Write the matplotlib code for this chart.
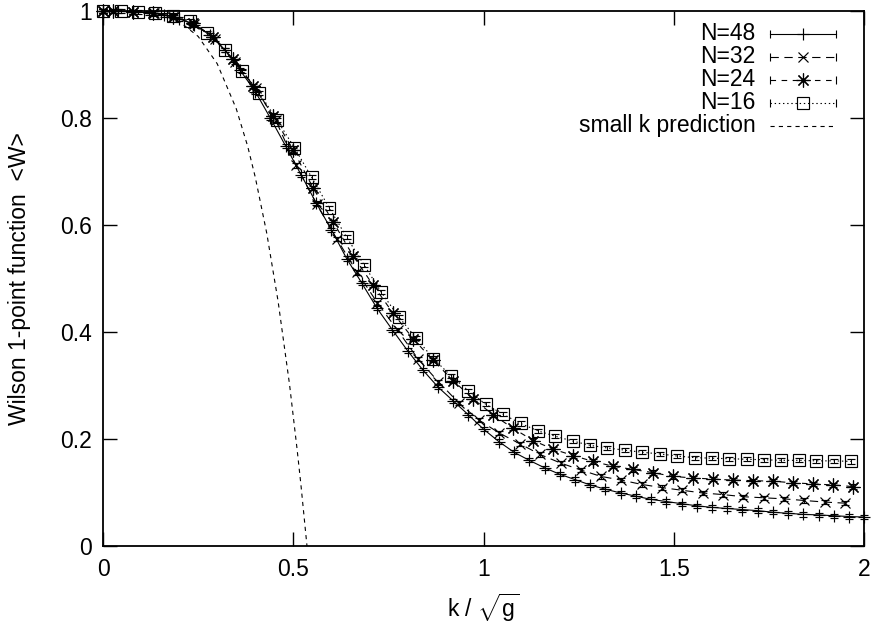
import matplotlib
matplotlib.use('Agg')
import matplotlib.pyplot as plt
from matplotlib.ticker import MultipleLocator, FormatStrFormatter

plt.rcParams['font.family'] = ['Liberation Sans', 'DejaVu Sans']
plt.rcParams['mathtext.fontset'] = 'custom'
plt.rcParams['mathtext.rm'] = 'Liberation Sans'
plt.rcParams['mathtext.it'] = 'Liberation Sans'
plt.rcParams['lines.scale_dashes'] = False

# ---- data ----
k48 = [0.00, 0.04, 0.08, 0.12, 0.16, 0.20, 0.24, 0.28, 0.32, 0.36, 0.40, 0.44, 0.48,
       0.52, 0.56, 0.60, 0.64, 0.68, 0.72, 0.76, 0.80, 0.84, 0.88, 0.92, 0.96, 1.00,
       1.04, 1.08, 1.12, 1.16, 1.20, 1.24, 1.28, 1.32, 1.36, 1.40, 1.44, 1.48, 1.52,
       1.56, 1.60, 1.64, 1.68, 1.72, 1.76, 1.80, 1.84, 1.88, 1.92, 1.96, 2.00]
w48 = [1.000, 1.000, 0.999, 0.997, 0.993, 0.986, 0.975, 0.956, 0.928, 0.890, 0.850, 0.800, 0.748,
       0.695, 0.642, 0.592, 0.538, 0.492, 0.445, 0.405, 0.366, 0.330, 0.298, 0.272, 0.246, 0.219,
       0.196, 0.176, 0.161, 0.147, 0.135, 0.125, 0.115, 0.107, 0.100, 0.094, 0.088, 0.084, 0.080,
       0.076, 0.073, 0.071, 0.069, 0.067, 0.064, 0.062, 0.060, 0.059, 0.0575, 0.056, 0.055]

k32 = [0.000, 0.027, 0.080, 0.134, 0.187, 0.240, 0.294, 0.347, 0.401, 0.454, 0.507, 0.561,
       0.614, 0.668, 0.721, 0.774, 0.828, 0.881, 0.935, 0.988, 1.041, 1.095, 1.148, 1.202,
       1.255, 1.308, 1.362, 1.415, 1.469, 1.522, 1.575, 1.629, 1.682, 1.736, 1.789, 1.842,
       1.896, 1.949]
w32 = [1.000, 1.000, 0.999, 0.996, 0.989, 0.976, 0.948, 0.905, 0.856, 0.796, 0.712, 0.640,
       0.575, 0.512, 0.455, 0.404, 0.350, 0.308, 0.268, 0.236, 0.212, 0.192, 0.172, 0.156,
       0.143, 0.131, 0.124, 0.116, 0.110, 0.105, 0.100, 0.097, 0.093, 0.091, 0.089, 0.086,
       0.083, 0.081]

k24 = [0.000, 0.027, 0.080, 0.132, 0.185, 0.237, 0.290, 0.342, 0.395, 0.447, 0.500, 0.552,
       0.605, 0.657, 0.710, 0.762, 0.815, 0.867, 0.920, 0.972, 1.025, 1.077, 1.130, 1.182,
       1.235, 1.287, 1.340, 1.392, 1.445, 1.497, 1.550, 1.602, 1.655, 1.707, 1.760, 1.812,
       1.865, 1.917, 1.970]
w24 = [1.000, 1.000, 0.999, 0.997, 0.990, 0.978, 0.952, 0.910, 0.860, 0.805, 0.740, 0.670,
       0.606, 0.543, 0.488, 0.436, 0.388, 0.348, 0.310, 0.276, 0.246, 0.221, 0.198, 0.182,
       0.170, 0.159, 0.150, 0.144, 0.138, 0.131, 0.128, 0.126, 0.124, 0.123, 0.122, 0.119,
       0.117, 0.115, 0.112]

k16 = [0.000, 0.046, 0.091, 0.137, 0.183, 0.229, 0.274, 0.320, 0.366, 0.411, 0.457, 0.503,
       0.548, 0.594, 0.640, 0.686, 0.731, 0.777, 0.823, 0.868, 0.914, 0.960, 1.005, 1.051,
       1.097, 1.143, 1.188, 1.234, 1.280, 1.325, 1.371, 1.417, 1.463, 1.508, 1.554, 1.600,
       1.645, 1.691, 1.737, 1.782, 1.828, 1.874, 1.920, 1.965]
w16 = [1.000, 1.000, 0.999, 0.997, 0.992, 0.981, 0.960, 0.927, 0.889, 0.847, 0.797, 0.745,
       0.690, 0.633, 0.578, 0.526, 0.475, 0.429, 0.389, 0.351, 0.319, 0.291, 0.266, 0.247,
       0.230, 0.216, 0.206, 0.197, 0.189, 0.184, 0.180, 0.176, 0.173, 0.169, 0.166, 0.165,
       0.164, 0.163, 0.162, 0.161, 0.161, 0.160, 0.160, 0.159]

# error bars are tiny, roughly the same size everywhere
err = 0.004

# small k prediction curve
k_pred = [0.00, 0.05, 0.10, 0.15, 0.20, 0.25, 0.30, 0.35, 0.38, 0.40, 0.43, 0.46, 0.49, 0.51, 0.52, 0.536]
w_pred = [1.000, 1.000, 0.999, 0.994, 0.981, 0.953, 0.902, 0.818, 0.748, 0.690, 0.586, 0.458, 0.303, 0.181, 0.115, 0.0]

labels = ['N=48', 'N=32', 'N=24', 'N=16', 'small k prediction']

# ---- styles ----
asterisk = (8, 2, 0)
styles = [
    dict(ls='-', marker='+', ms=9),
    dict(ls=(0, (6, 4)), marker='x', ms=7),
    dict(ls=(0, (4, 4)), marker=asterisk, ms=10),
    dict(ls=(0, (1, 2)), marker='s', ms=8, mfc='none'),
]
pred_ls = (0, (3, 3))

fig = plt.figure(figsize=(8.73, 6.26), dpi=100)
ax = fig.add_axes([0.118, 0.127, 0.872, 0.855])

series = [(k48, w48), (k32, w32), (k24, w24), (k16, w16)]
for (kk, ww), st in zip(series, styles):
    ax.errorbar(kk, ww, yerr=err, color='black', lw=0.8, elinewidth=0.7,
                capsize=3, capthick=0.7, mew=0.85, clip_on=False, **st)

ax.plot(k_pred, w_pred, color='black', lw=0.8, ls=pred_ls)

ax.set_xlim(0, 2)
ax.set_ylim(0, 1)
ax.xaxis.set_major_locator(MultipleLocator(0.5))
ax.yaxis.set_major_locator(MultipleLocator(0.2))
ax.xaxis.set_major_formatter(FormatStrFormatter('%g'))
ax.yaxis.set_major_formatter(FormatStrFormatter('%g'))
ax.tick_params(direction='in', length=10, width=1, labelsize=16.5,
               top=True, right=True, pad=8)
for sp in ax.spines.values():
    sp.set_linewidth(1.3)

ax.set_xlabel('k / $\\sqrt{\\mathrm{g}}$', fontsize=16.5, labelpad=8)
ax.set_ylabel('Wilson 1-point function  <W>', fontsize=16.5)
ax.yaxis.set_label_coords(-0.094, 0.5)

# gnuplot style key: right aligned text, line sample with end ticks
rows = [0.958, 0.915, 0.872, 0.829, 0.786]
x_text, x1, x2 = 0.857, 0.876, 0.963
for i, lab in enumerate(labels):
    y = rows[i]
    ax.text(x_text, y, lab, transform=ax.transAxes, ha='right', va='center', fontsize=16.5)
    if i < 4:
        st = styles[i]
        ax.plot([x1, x2], [y, y], transform=ax.transAxes, color='black', lw=0.8,
                ls=st['ls'], clip_on=False)
        ax.plot([x1, x2], [y, y], transform=ax.transAxes, color='black', ls='none',
                marker='|', ms=6, mew=0.8, clip_on=False)
        ax.plot([(x1 + x2) / 2], [y], transform=ax.transAxes, color='black', ls='none',
                marker=st['marker'], ms=st['ms'], mfc=st.get('mfc', 'black'), mew=0.85,
                clip_on=False)
    else:
        ax.plot([x1, x2], [y, y], transform=ax.transAxes, color='black', lw=0.8,
                ls=pred_ls, clip_on=False)

fig.savefig('out.png', dpi=100)
